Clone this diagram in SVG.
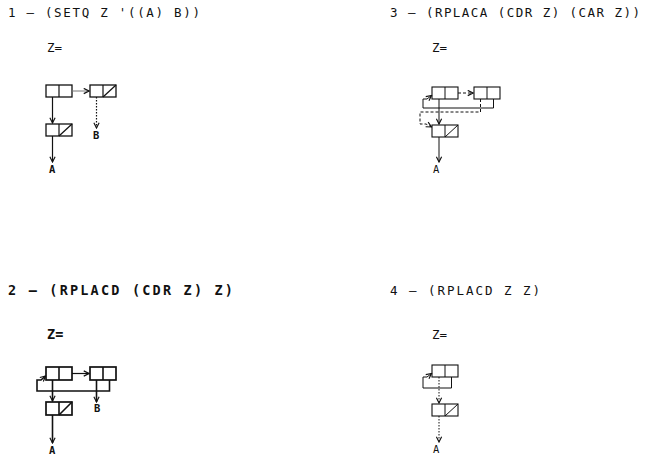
<svg xmlns="http://www.w3.org/2000/svg" width="648" height="460" viewBox="0 0 648 460">
  <style>
    .t { font-family: "DejaVu Sans Mono", "Liberation Mono", monospace; font-size: 12.5px; fill: #111; }
    .tb { font-family: "DejaVu Sans Mono", "Liberation Mono", monospace; font-size: 13.5px; font-weight: bold; fill: #111; }
    .z { font-family: "DejaVu Sans Mono", "Liberation Mono", monospace; font-size: 12.5px; fill: #111; }
    .lbl { font-family: "DejaVu Sans Mono", "Liberation Mono", monospace; font-size: 10.5px; font-weight: bold; fill: #111; }
    .cell { fill: #fff; stroke: #111; stroke-width: 1.3; }
    .cellb { fill: #fff; stroke: #111; stroke-width: 1.7; }
    .cellt { fill: #fff; stroke: #111; stroke-width: 1.1; }
    .ln { fill: none; stroke: #111; stroke-width: 1.2; }
    .lnb { fill: none; stroke: #111; stroke-width: 1.6; }
    .lnt { fill: none; stroke: #111; stroke-width: 1; }
    .lng { fill: none; stroke: #777; stroke-width: 1; }
    .dash { stroke-dasharray: 3 2; }
    .dot { stroke-dasharray: 1.5 1.5; }
  </style>
  <defs>
    <marker id="ah" viewBox="0 0 8 8" refX="7" refY="4" markerWidth="7" markerHeight="7" markerUnits="userSpaceOnUse" orient="auto">
      <path d="M1,1 L7,4 L1,7" fill="none" stroke="#111" stroke-width="1.3"/>
    </marker>
  </defs>
  <rect width="648" height="460" fill="#fff"/>

  <!-- step titles -->
  <g id="titles">
    <text class="t" x="8" y="17" textLength="192" lengthAdjust="spacing">1 – (SETQ Z '((A) B))</text>
    <text class="t" x="390" y="17" textLength="250" lengthAdjust="spacing">3 – (RPLACA (CDR Z) (CAR Z))</text>
    <text class="tb" x="8" y="295" textLength="225" lengthAdjust="spacing">2 – (RPLACD (CDR Z) Z)</text>
    <text class="t" x="390" y="295" textLength="150" lengthAdjust="spacing">4 – (RPLACD Z Z)</text>
  </g>

  <!-- step 1 -->
  <g id="step1">
    <text class="z" x="47" y="52">Z=</text>
    <g id="s1-cell1"><rect class="cell" x="46" y="85" width="26" height="12"/><line class="ln" x1="59" y1="85" x2="59" y2="97"/></g>
    <g id="s1-cell2"><rect class="cell" x="90" y="85" width="26" height="12"/><line class="ln" x1="103" y1="85" x2="103" y2="97"/><line class="ln" x1="103" y1="97" x2="116" y2="85"/></g>
    <g id="s1-cell3"><rect class="cell" x="46" y="124" width="26" height="12"/><line class="ln" x1="59" y1="124" x2="59" y2="136"/><line class="ln" x1="59" y1="136" x2="72" y2="124"/></g>
    <text class="lbl" x="93" y="139">B</text>
    <text class="lbl" x="49" y="173">A</text>
    <g id="s1-links">
      <line class="lng" x1="72" y1="91" x2="89" y2="91" marker-end="url(#ah)"/>
      <line class="ln" x1="52.5" y1="97" x2="52.5" y2="123" marker-end="url(#ah)"/>
      <line class="ln dot" x1="96.5" y1="97" x2="96.5" y2="128" marker-end="url(#ah)"/>
      <line class="ln" x1="52.5" y1="136" x2="52.5" y2="162" marker-end="url(#ah)"/>
    </g>
  </g>

  <!-- step 3 -->
  <g id="step3">
    <text class="z" x="432" y="52">Z=</text>
    <g id="s3-cell1"><rect class="cellt" x="432" y="87" width="26" height="12"/><line class="lnt" x1="445" y1="87" x2="445" y2="99"/></g>
    <g id="s3-cell2"><rect class="cellt" x="474" y="87" width="26" height="12"/><line class="lnt" x1="487" y1="87" x2="487" y2="99"/></g>
    <g id="s3-cell3"><rect class="cellt" x="432" y="125" width="26" height="12"/><line class="lnt" x1="445" y1="125" x2="445" y2="137"/><line class="lnt" x1="445" y1="137" x2="458" y2="125"/></g>
    <text class="z" x="433" y="173" style="font-size:10.5px">A</text>
    <g id="s3-links">
      <line class="lnt dash" x1="458" y1="93" x2="473" y2="93" marker-end="url(#ah)"/>
      <path class="lnt" d="M493.5,99 V108 H423 V99 H427 L431.5,95.5" marker-end="url(#ah)"/>
      <path class="lnt dash" d="M480.5,99 V112 H420 V124 H426 L431.5,127" marker-end="url(#ah)"/>
      <line class="lnt" x1="439" y1="99" x2="439" y2="124" marker-end="url(#ah)"/>
      <line class="lnt" x1="439" y1="137" x2="439" y2="162" marker-end="url(#ah)"/>
    </g>
  </g>

  <!-- step 2 -->
  <g id="step2">
    <text class="tb" x="47" y="339">Z=</text>
    <g id="s2-cell1"><rect class="cellb" x="46" y="367" width="26" height="13"/><line class="lnb" x1="59" y1="367" x2="59" y2="380"/></g>
    <g id="s2-cell2"><rect class="cellb" x="90" y="367" width="26" height="13"/><line class="lnb" x1="103" y1="367" x2="103" y2="380"/></g>
    <g id="s2-cell3"><rect class="cellb" x="46" y="402" width="26" height="13"/><line class="lnb" x1="59" y1="402" x2="59" y2="415"/><line class="lnb" x1="59" y1="415" x2="72" y2="402"/></g>
    <text class="lbl" x="94" y="412">B</text>
    <text class="lbl" x="49" y="454">A</text>
    <g id="s2-links">
      <line class="ln" x1="72" y1="373.5" x2="89" y2="373.5" marker-end="url(#ah)"/>
      <path class="lnb" d="M109.5,380 V391 H37 V380 H41 L45.5,376" marker-end="url(#ah)"/>
      <line class="lnb" x1="52.5" y1="380" x2="52.5" y2="401" marker-end="url(#ah)"/>
      <line class="lnb" x1="96.5" y1="380" x2="96.5" y2="402" marker-end="url(#ah)"/>
      <line class="lnb" x1="52.5" y1="415" x2="52.5" y2="443" marker-end="url(#ah)"/>
    </g>
  </g>

  <!-- step 4 -->
  <g id="step4">
    <text class="z" x="432" y="339">Z=</text>
    <g id="s4-cell1"><rect class="cellt" x="432" y="365" width="26" height="12"/><line class="lnt" x1="445" y1="365" x2="445" y2="377"/></g>
    <g id="s4-cell2"><rect class="cellt" x="432" y="404" width="26" height="12"/><line class="lnt" x1="445" y1="404" x2="445" y2="416"/><line class="lnt" x1="445" y1="416" x2="458" y2="404"/></g>
    <text class="z" x="433" y="453" style="font-size:10.5px">A</text>
    <g id="s4-links">
      <path class="lnt" d="M451.5,377 V388 H423 V377 H427 L431.5,373.5" marker-end="url(#ah)"/>
      <line class="lnt dot" x1="439" y1="377" x2="439" y2="403" marker-end="url(#ah)"/>
      <line class="lnt dot" x1="439" y1="416" x2="439" y2="442" marker-end="url(#ah)"/>
    </g>
  </g>
</svg>
